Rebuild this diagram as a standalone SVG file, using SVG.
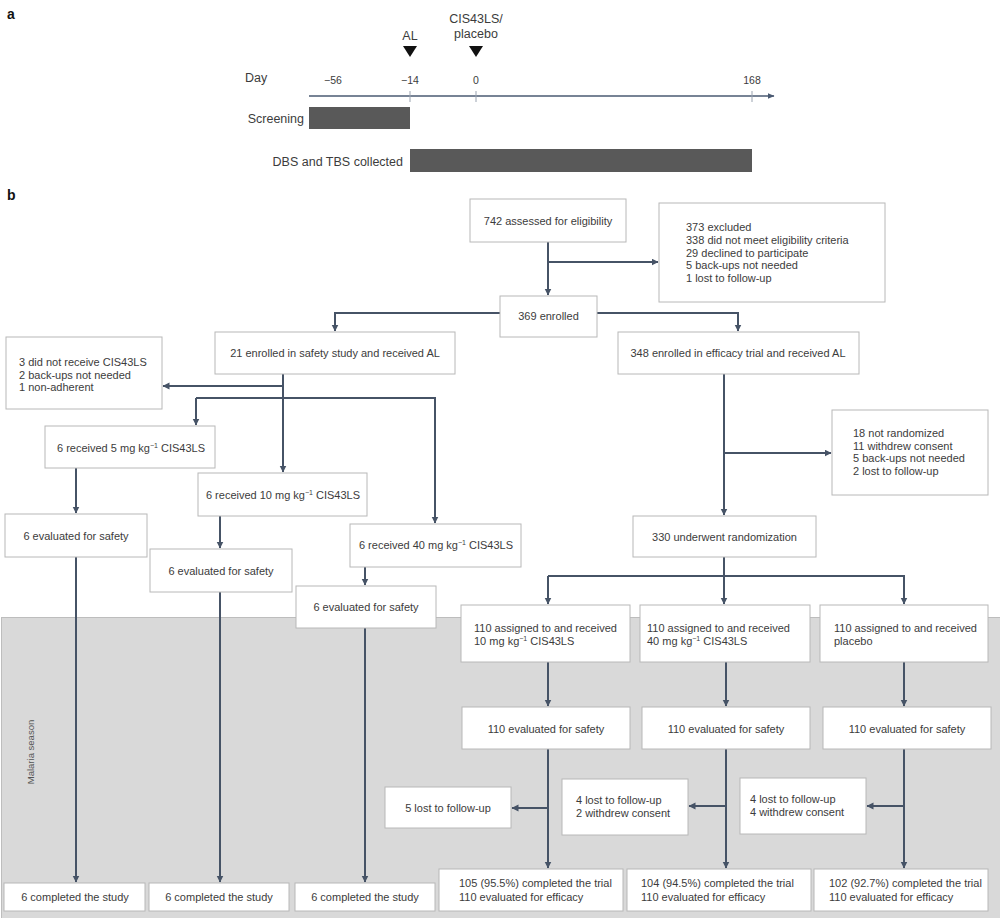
<svg xmlns="http://www.w3.org/2000/svg" width="1000" height="918" viewBox="0 0 1000 918">
<defs>
<style>
text{font-family:"Liberation Sans",Arial,sans-serif;fill:#3c3c3c;}
.t{font-size:11px;}
.m{text-anchor:middle;}
.r{text-anchor:end;}
.pa{font-size:12.5px;}
.tick{font-size:10.5px;text-anchor:middle;}
.lbl{font-size:14px;font-weight:bold;fill:#111;}
.box{fill:#fff;stroke:#b8b8b8;stroke-width:1;}
.bar{fill:#595959;}
.con{fill:none;stroke:#465366;stroke-width:2;}
.arr{fill:none;stroke:#465366;stroke-width:2;marker-end:url(#ah);}
.sup{font-size:7px;}
</style>
<marker id="ah" markerUnits="userSpaceOnUse" markerWidth="8" markerHeight="8" refX="6.5" refY="3.5" orient="auto">
<path d="M0,0 L7,3.5 L0,7 z" fill="#465366"/>
</marker>
<marker id="axh" markerUnits="userSpaceOnUse" markerWidth="8" markerHeight="8" refX="6.5" refY="3" orient="auto">
<path d="M0,0 L7,3 L0,6 z" fill="#4a5a72"/>
</marker>
</defs>
<rect width="1000" height="918" fill="#fff"/>

<!-- Panel a -->
<g id="panel-a">
<text class="lbl" x="7" y="19">a</text>
<text class="pa" x="245" y="81.5">Day</text>
<line x1="309" y1="96" x2="774" y2="96" stroke="#4a5a72" stroke-width="1.5" marker-end="url(#axh)"/>
<g stroke="#9aa3b0" stroke-width="1">
<line x1="410" y1="91" x2="410" y2="102"/>
<line x1="476" y1="91" x2="476" y2="102"/>
<line x1="752" y1="91" x2="752" y2="102"/>
</g>
<text class="tick" x="333" y="84">−56</text>
<text class="tick" x="410" y="84">−14</text>
<text class="tick" x="476" y="84">0</text>
<text class="tick" x="752" y="84">168</text>
<text class="pa m" x="410" y="39.5">AL</text>
<polygon points="403,46 417,46 410,57" fill="#111"/>
<text class="pa m" x="476" y="22.5">CIS43LS/</text>
<text class="pa m" x="476" y="37.5">placebo</text>
<polygon points="469,46 483,46 476,57" fill="#111"/>
<text class="pa r" x="304" y="122.5">Screening</text>
<rect class="bar" x="309" y="107" width="101" height="22"/>
<text class="pa r" x="403" y="165.5">DBS and TBS collected</text>
<rect class="bar" x="410" y="149" width="342" height="23"/>
</g>

<!-- Panel b -->
<text class="lbl" x="7" y="200">b</text>
<g id="malaria-season">
<rect x="1.5" y="617.5" width="1000" height="310" fill="#d9d9d9" stroke="#bdbdbd" stroke-width="1"/>
<text x="34" y="752" font-size="9.5" text-anchor="middle" transform="rotate(-90 34 752)" style="fill:#555">Malaria season</text>
</g>

<g id="connectors">
<path class="arr" d="M548,242 V295"/>
<path class="arr" d="M548,262 H658"/>
<path class="arr" d="M500,313 H335 V331"/>
<path class="arr" d="M597,313 H738 V331"/>
<path class="arr" d="M283,374 V472"/>
<path class="arr" d="M283,386 H163"/>
<path class="arr" d="M196,398 V425"/>
<path class="arr" d="M196,398 H435 V523"/>
<path class="arr" d="M76,468 V513"/>
<path class="arr" d="M220,516 V548"/>
<path class="arr" d="M365,567 V585"/>
<path class="arr" d="M76,557 V882"/>
<path class="arr" d="M220,592 V882"/>
<path class="arr" d="M365,628 V882"/>
<path class="arr" d="M724,374 V515"/>
<path class="arr" d="M724,453 H831"/>
<path class="con" d="M724,557 V576"/>
<path class="arr" d="M548,576 H904 V604"/>
<path class="arr" d="M548,576 V604"/>
<path class="arr" d="M724,576 V604"/>
<path class="arr" d="M548,662 V706"/>
<path class="arr" d="M726,662 V706"/>
<path class="arr" d="M904,662 V706"/>
<path class="arr" d="M548,749 V868"/>
<path class="arr" d="M726,749 V868"/>
<path class="arr" d="M904,749 V868"/>
<path class="arr" d="M548,808 H512"/>
<path class="arr" d="M726,806 H689"/>
<path class="arr" d="M904,806 H867"/>
</g>

<g id="n742"><rect class="box" x="470" y="199" width="156" height="43"/><text class="t m" x="548" y="225">742 assessed for eligibility</text></g>
<g id="excluded"><rect class="box" x="659" y="203" width="226" height="99"/>
<text class="t" x="686" y="231">373 excluded</text>
<text class="t" x="686" y="243.8">338 did not meet eligibility criteria</text>
<text class="t" x="686" y="256.5">29 declined to participate</text>
<text class="t" x="686" y="269.3">5 back-ups not needed</text>
<text class="t" x="686" y="282">1 lost to follow-up</text></g>
<g id="n369"><rect class="box" x="500" y="296" width="97" height="41"/><text class="t m" x="548.5" y="320">369 enrolled</text></g>
<g id="safety21"><rect class="box" x="215" y="332" width="240" height="42"/><text class="t m" x="335" y="357">21 enrolled in safety study and received AL</text></g>
<g id="efficacy348"><rect class="box" x="618" y="332" width="241" height="42"/><text class="t m" x="738" y="357">348 enrolled in efficacy trial and received AL</text></g>
<g id="notreceive"><rect class="box" x="6" y="337" width="156" height="72"/>
<text class="t" x="19" y="366">3 did not receive CIS43LS</text>
<text class="t" x="19" y="378.5">2 back-ups not needed</text>
<text class="t" x="19" y="391">1 non-adherent</text></g>
<g id="rec5"><rect class="box" x="45" y="426" width="170" height="42"/><text class="t m" x="131" y="452">6 received 5 mg kg<tspan class="sup" dy="-4">−1</tspan><tspan dy="4"> CIS43LS</tspan></text></g>
<g id="rec10"><rect class="box" x="198" y="473" width="169" height="43"/><text class="t m" x="283" y="499">6 received 10 mg kg<tspan class="sup" dy="-4">−1</tspan><tspan dy="4"> CIS43LS</tspan></text></g>
<g id="rec40"><rect class="box" x="350" y="524" width="171" height="43"/><text class="t m" x="436" y="549">6 received 40 mg kg<tspan class="sup" dy="-4">−1</tspan><tspan dy="4"> CIS43LS</tspan></text></g>
<g id="eval5"><rect class="box" x="5" y="514" width="142" height="43"/><text class="t m" x="76" y="540">6 evaluated for safety</text></g>
<g id="eval10"><rect class="box" x="150" y="549" width="142" height="43"/><text class="t m" x="221" y="575">6 evaluated for safety</text></g>
<g id="eval40"><rect class="box" x="296" y="586" width="140" height="42"/><text class="t m" x="366" y="611">6 evaluated for safety</text></g>
<g id="notrand"><rect class="box" x="832" y="410" width="156" height="85"/>
<text class="t" x="853" y="437">18 not randomized</text>
<text class="t" x="853" y="449.7">11 withdrew consent</text>
<text class="t" x="853" y="462.4">5 back-ups not needed</text>
<text class="t" x="853" y="475">2 lost to follow-up</text></g>
<g id="rand330"><rect class="box" x="633" y="516" width="183" height="41"/><text class="t m" x="724.5" y="541">330 underwent randomization</text></g>
<g id="arm10"><rect class="box" x="461" y="605" width="169" height="57"/>
<text class="t" x="474" y="632">110 assigned to and received</text>
<text class="t" x="474" y="644.5">10 mg kg<tspan class="sup" dy="-4">−1</tspan><tspan dy="4"> CIS43LS</tspan></text></g>
<g id="arm40"><rect class="box" x="640" y="605" width="170" height="57"/>
<text class="t" x="647" y="632">110 assigned to and received</text>
<text class="t" x="647" y="644.5">40 mg kg<tspan class="sup" dy="-4">−1</tspan><tspan dy="4"> CIS43LS</tspan></text></g>
<g id="armpl"><rect class="box" x="820" y="605" width="168" height="57"/>
<text class="t" x="834" y="632">110 assigned to and received</text>
<text class="t" x="834" y="644.5">placebo</text></g>
<g id="ev10"><rect class="box" x="462" y="707" width="168" height="42"/><text class="t m" x="546" y="733">110 evaluated for safety</text></g>
<g id="ev40"><rect class="box" x="642" y="707" width="168" height="42"/><text class="t m" x="726" y="733">110 evaluated for safety</text></g>
<g id="evpl"><rect class="box" x="823" y="707" width="168" height="42"/><text class="t m" x="907" y="733">110 evaluated for safety</text></g>
<g id="lost10"><rect class="box" x="385" y="787" width="126" height="41"/><text class="t m" x="448" y="812">5 lost to follow-up</text></g>
<g id="lost40"><rect class="box" x="562" y="779" width="126" height="56"/>
<text class="t" x="576" y="804">4 lost to follow-up</text>
<text class="t" x="576" y="817">2 withdrew consent</text></g>
<g id="lostpl"><rect class="box" x="740" y="778" width="126" height="56"/>
<text class="t" x="750" y="803">4 lost to follow-up</text>
<text class="t" x="750" y="816">4 withdrew consent</text></g>
<g id="comp5"><rect class="box" x="4" y="883" width="141" height="28"/><text class="t m" x="75" y="901">6 completed the study</text></g>
<g id="comp10"><rect class="box" x="149" y="883" width="140" height="28"/><text class="t m" x="219" y="901">6 completed the study</text></g>
<g id="comp40"><rect class="box" x="295" y="883" width="140" height="28"/><text class="t m" x="365" y="901">6 completed the study</text></g>
<g id="eff10"><rect class="box" x="439" y="869" width="184" height="42"/>
<text class="t" x="459" y="887">105 (95.5%) completed the trial</text>
<text class="t" x="459" y="900.5">110 evaluated for efficacy</text></g>
<g id="eff40"><rect class="box" x="627" y="869" width="184" height="42"/>
<text class="t" x="641" y="887">104 (94.5%) completed the trial</text>
<text class="t" x="641" y="900.5">110 evaluated for efficacy</text></g>
<g id="effpl"><rect class="box" x="814" y="869" width="174" height="42"/>
<text class="t" x="829" y="887">102 (92.7%) completed the trial</text>
<text class="t" x="829" y="900.5">110 evaluated for efficacy</text></g>
</svg>
